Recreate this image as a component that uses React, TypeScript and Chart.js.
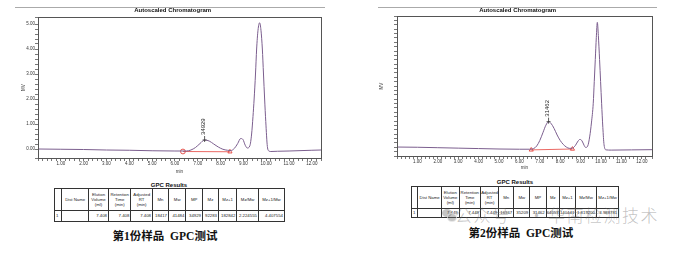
import React, { useEffect, useRef } from 'react';
import { Chart, registerables } from 'chart.js';

Chart.register(...registerables);

// ---------- data: sample 1 ----------
const times1 = [0, 1, 2, 3, 4, 5, 6, 6.5, 6.7, 6.9, 7.1, 7.3, 7.5, 7.7, 7.9, 8.1, 8.3, 8.45, 8.6, 8.75, 8.88, 8.98, 9.08, 9.17, 9.28, 9.36, 9.42, 9.47, 9.53, 9.58, 9.64, 9.71, 9.77, 9.83, 9.88, 9.93, 9.98, 10.05, 10.12, 10.2, 10.5, 11, 12, 12.4];
const signal1 = [0, -0.01, -0.02, -0.04, -0.05, -0.07, -0.08, -0.08, -0.04, 0.06, 0.22, 0.36, 0.32, 0.2, 0.08, -0.01, -0.05, -0.06, 0.02, 0.22, 0.42, 0.38, 0.15, 0.04, 0.12, 0.6, 1.3, 2.0, 3.0, 4.0, 4.75, 5.05, 4.75, 4.0, 3.0, 2.0, 1.1, 0.1, -0.08, -0.1, -0.09, -0.08, -0.05, -0.04];
const baseTimes1 = [6.35, 8.41];
const baseValues1 = [-0.1, -0.11];
const baseMarkers1 = ['circle', 'triangle'];
const peakTime1 = 7.3;
const peakLabel1 = '34929';

// ---------- data: sample 2 ----------
const times2 = [0, 1, 2, 3, 4, 5, 6, 6.5, 6.7, 6.85, 7.0, 7.15, 7.3, 7.43, 7.55, 7.7, 7.85, 8.0, 8.15, 8.3, 8.45, 8.6, 8.75, 8.88, 8.97, 9.07, 9.17, 9.25, 9.35, 9.45, 9.53, 9.62, 9.67, 9.72, 9.77, 9.82, 9.87, 9.93, 9.98, 10.03, 10.09, 10.15, 10.25, 10.5, 11.5, 12.5];
const signal2 = [0, -0.01, -0.03, -0.05, -0.07, -0.09, -0.1, -0.1, -0.07, 0.05, 0.3, 0.65, 1.0, 1.16, 1.08, 0.85, 0.55, 0.3, 0.12, 0.0, -0.06, -0.05, 0.08, 0.28, 0.35, 0.28, 0.08, -0.02, 0.05, 0.5, 1.1, 2.0, 3.0, 4.0, 5.0, 5.7, 5.1, 4.0, 3.0, 2.0, 0.9, 0.1, -0.13, -0.14, -0.13, -0.12];
const baseTimes2 = [6.58, 8.6];
const baseValues2 = [-0.13, -0.09];
const baseMarkers2 = ['triangle', 'triangle'];
const peakTime2 = 7.43;
const peakLabel2 = '31462';

// ---------- tables ----------
const gpcHeaders = ['', 'Dist Name', 'Elution\nVolume\n(ml)', 'Retention\nTime\n(min)', 'Adjusted\nRT\n(min)', 'Mn', 'Mw', 'MP', 'Mz', 'Mz+1', 'Mz/Mw', 'Mz+1/Mw'];
const gpcRow1 = ['1', '', '7.408', '7.408', '7.408', '18417', '41484', '34929', '92283', '182842', '2.224555', '4.407554'];
const gpcRow2 = ['1', '', '7.449', '7.449', '7.449', '16367', '35209', '31462', '64053', '140441', '1.819200', '3.988781'];

const chartTitle = 'Autoscaled Chromatogram';
const tableTitle = 'GPC Results';
const caption1 = '第1份样品  GPC测试';
const caption2 = '第2份样品  GPC测试';
const xTitle = 'min';
const yTitle = 'MV';

const TRACE = '#7b5e8e';
const RED = '#e4433c';
const SANS = '"Liberation Sans", Arial, sans-serif';

type ChromCfg = {
  left: number; top: number; w: number; h: number;
  times: number[]; signal: number[];
  baseTimes: number[]; baseValues: number[]; baseMarkers: string[];
  peakTime: number; peakLabel: string;
  xMax: number; yMin: number; yMax: number;
  padTop: number; padRight: number; yW: number; xH: number;
  yTitlePad: number; xTitlePad: number;
  ruleFrom: number; ruleTo: number; ruleY: number; titleX: number; titleY: number;
};

function buildConfig(c: ChromCfg): any {
  const isInt = (v: number) => Math.abs(v - Math.round(v)) < 1e-6;
  const framePlugin = {
    id: 'frame',
    afterDraw(chart: any) {
      const { ctx, chartArea: a } = chart;
      ctx.save();
      ctx.strokeStyle = '#555';
      ctx.lineWidth = 1;
      ctx.strokeRect(Math.round(a.left) + 0.5, Math.round(a.top) + 0.5, Math.round(a.right - a.left), Math.round(a.bottom - a.top));
      ctx.strokeStyle = '#aaa';
      ctx.beginPath();
      ctx.moveTo(c.ruleFrom, c.ruleY + 0.5);
      ctx.lineTo(c.ruleTo, c.ruleY + 0.5);
      ctx.stroke();
      ctx.fillStyle = '#111';
      ctx.font = 'bold 6px ' + SANS;
      ctx.textAlign = 'center';
      ctx.textBaseline = 'middle';
      ctx.fillText(chartTitle, c.titleX, c.titleY);
      ctx.restore();
    },
  };
  const peakPlugin = {
    id: 'peak',
    afterDatasetsDraw(chart: any) {
      const { ctx } = chart;
      const xs = chart.scales.x;
      const ys = chart.scales.y;
      const i = c.times.indexOf(c.peakTime);
      const px = xs.getPixelForValue(c.times[i]);
      const py = ys.getPixelForValue(c.signal[i]);
      ctx.save();
      ctx.strokeStyle = '#333';
      ctx.lineWidth = 0.8;
      ctx.beginPath();
      ctx.moveTo(px, py + 2);
      ctx.lineTo(px, py - 4);
      ctx.moveTo(px - 2, py);
      ctx.lineTo(px + 2, py);
      ctx.stroke();
      ctx.translate(px - 1.5, py - 5);
      ctx.rotate(-Math.PI / 2);
      ctx.font = '6px ' + SANS;
      ctx.fillStyle = '#222';
      ctx.textAlign = 'left';
      ctx.textBaseline = 'middle';
      ctx.fillText(c.peakLabel, 0, 0);
      ctx.restore();
    },
  };
  const tickFont = { size: 4.5, family: SANS };
  return {
    type: 'line',
    data: {
      datasets: [
        {
          data: c.times.map((t, i) => ({ x: t, y: c.signal[i] })),
          borderColor: TRACE,
          borderWidth: 1,
          pointRadius: 0,
          cubicInterpolationMode: 'monotone',
          fill: false,
        },
        {
          data: c.baseTimes.map((t, i) => ({ x: t, y: c.baseValues[i] })),
          borderColor: RED,
          borderWidth: 0.8,
          pointStyle: c.baseMarkers,
          pointRadius: 2.4,
          pointBorderColor: RED,
          pointBorderWidth: 0.9,
          pointBackgroundColor: 'rgba(255,255,255,0)',
          fill: false,
        },
      ],
    },
    options: {
      responsive: false,
      animation: false,
      devicePixelRatio: 1,
      events: [],
      layout: { padding: { left: 0, right: c.padRight, top: c.padTop, bottom: 0 } },
      plugins: { legend: { display: false }, tooltip: { enabled: false }, title: { display: false } },
      scales: {
        x: {
          type: 'linear',
          min: 0,
          max: c.xMax,
          afterFit: (s: any) => { s.height = c.xH; },
          border: { display: false },
          grid: { drawOnChartArea: false, drawTicks: true, tickLength: 3, color: '#555', lineWidth: 0.8 },
          ticks: {
            stepSize: 0.2,
            autoSkip: false,
            maxRotation: 0,
            minRotation: 0,
            padding: 0,
            font: tickFont,
            color: '#333',
            callback: (v: number) => (isInt(v) && v > 0.5 ? Number(v).toFixed(2) : ''),
          },
          title: { display: true, text: xTitle, font: tickFont, color: '#333', padding: { top: 0, bottom: c.xTitlePad } },
        },
        y: {
          type: 'linear',
          min: c.yMin,
          max: c.yMax,
          afterFit: (s: any) => { s.width = c.yW; },
          border: { display: false },
          grid: { drawOnChartArea: false, drawTicks: true, tickLength: 3, color: '#555', lineWidth: 0.8 },
          ticks: {
            stepSize: 0.2,
            autoSkip: false,
            padding: 0,
            font: tickFont,
            color: '#333',
            callback: (v: number) => (isInt(v) && v > -0.5 && v < 5.5 ? Number(v).toFixed(2) : ''),
          },
          title: { display: true, text: yTitle, font: tickFont, color: '#333', padding: { top: c.yTitlePad, bottom: 0 } },
        },
      },
    },
    plugins: [framePlugin, peakPlugin],
  };
}

function Chromatogram({ cfg }: { cfg: ChromCfg }) {
  const ref = useRef<HTMLCanvasElement | null>(null);
  useEffect(() => {
    const chart = new Chart(ref.current as HTMLCanvasElement, buildConfig(cfg));
    return () => chart.destroy();
  }, []);
  return (
    <canvas
      ref={ref}
      width={cfg.w}
      height={cfg.h}
      style={{ position: 'absolute', left: cfg.left, top: cfg.top, width: cfg.w, height: cfg.h }}
    />
  );
}

type TableCfg = { left: number; top: number; colWidths: number[]; headH: number; rowH: number; row: string[]; titleX: number; titleY: number };

function GpcTable({ t }: { t: TableCfg }) {
  const width = t.colWidths.reduce((a, b) => a + b, 0);
  const cell: React.CSSProperties = {
    border: '0.8px solid #333',
    padding: 0,
    fontFamily: SANS,
    fontSize: 4.3,
    lineHeight: '5.2px',
    color: '#222',
    overflow: 'hidden',
    whiteSpace: 'pre-line',
  };
  return (
    <>
      <div
        style={{
          position: 'absolute', left: t.titleX - 40, top: t.titleY - 3.5, width: 80, textAlign: 'center',
          fontFamily: SANS, fontWeight: 'bold', fontSize: 6, lineHeight: '7px', color: '#111',
        }}
      >
        {tableTitle}
      </div>
      <table
        style={{
          position: 'absolute', left: t.left, top: t.top, width, borderCollapse: 'collapse',
          tableLayout: 'fixed', border: '1.4px solid #222',
        }}
      >
        <colgroup>
          {t.colWidths.map((w, i) => <col key={i} style={{ width: w }} />)}
        </colgroup>
        <tbody>
          <tr style={{ height: t.headH }}>
            {gpcHeaders.map((h, i) => (
              <td key={i} style={{ ...cell, textAlign: 'center', height: t.headH }}>{h}</td>
            ))}
          </tr>
          <tr style={{ height: t.rowH }}>
            {t.row.map((v, i) => (
              <td key={i} style={{ ...cell, textAlign: i === 0 ? 'left' : 'right', paddingRight: i === 0 ? 0 : 1, paddingLeft: i === 0 ? 1 : 0, height: t.rowH }}>{v}</td>
            ))}
          </tr>
        </tbody>
      </table>
    </>
  );
}

const chrom1: ChromCfg = {
  left: 15, top: 0, w: 315, h: 180,
  times: times1, signal: signal1,
  baseTimes: baseTimes1, baseValues: baseValues1, baseMarkers: baseMarkers1,
  peakTime: peakTime1, peakLabel: peakLabel1,
  xMax: 12.4, yMin: -0.36, yMax: 5.28,
  padTop: 17, padRight: 9, yW: 23, xH: 22,
  yTitlePad: 5.6, xTitlePad: 5.3,
  ruleFrom: 0, ruleTo: 310, ruleY: 7, titleX: 157.7, titleY: 10.6,
};

const chrom2: ChromCfg = {
  left: 378, top: 0, w: 279, h: 175,
  times: times2, signal: signal2,
  baseTimes: baseTimes2, baseValues: baseValues2, baseMarkers: baseMarkers2,
  peakTime: peakTime2, peakLabel: peakLabel2,
  xMax: 12.5, yMin: -0.41, yMax: 5.99,
  padTop: 16, padRight: 5, yW: 19, xH: 19,
  yTitlePad: 1.0, xTitlePad: 4.3,
  ruleFrom: 0, ruleTo: 279, ruleY: 7, titleX: 139.7, titleY: 10,
};

const table1: TableCfg = {
  left: 54, top: 188, colWidths: [7.4, 26.6, 20, 22.4, 21.6, 16, 17.4, 16.6, 16, 18.4, 21.6, 26],
  headH: 21, rowH: 10, row: gpcRow1, titleX: 169, titleY: 185,
};

const table2: TableCfg = {
  left: 411, top: 186, colWidths: [6.3, 23.7, 17.7, 21.3, 18.3, 15, 16, 16.4, 13.3, 16, 21, 22.3],
  headH: 21, rowH: 8, row: gpcRow2, titleX: 515, titleY: 182,
};

const captionStyle: React.CSSProperties = {
  position: 'absolute', width: 160, textAlign: 'center', whiteSpace: 'pre',
  fontFamily: '"Liberation Serif", "Noto Sans CJK SC", serif', fontSize: 11.5, lineHeight: '14px',
  fontWeight: 600, color: '#111',
};

const wmStyle: React.CSSProperties = {
  position: 'absolute', fontFamily: '"Noto Sans CJK SC", sans-serif', fontWeight: 300,
  fontSize: 17, lineHeight: '20px', color: 'rgba(110,110,110,0.42)', letterSpacing: 1.5, whiteSpace: 'pre',
};

export default function App() {
  return (
    <div style={{ position: 'fixed', left: 0, top: 0, width: 684, height: 258, overflow: 'hidden', background: '#fff' }}>
      <Chromatogram cfg={chrom1} />
      <Chromatogram cfg={chrom2} />
      <GpcTable t={table1} />
      <GpcTable t={table2} />
      <div style={{ ...captionStyle, left: 165 - 80, top: 235.8 - 7 }}>{caption1}</div>
      <div style={{ ...captionStyle, left: 520.8 - 80, top: 232.5 - 7 }}>{caption2}</div>
      {/* watermark */}
      <div style={{ position: 'absolute', left: 442, top: 209, width: 10, height: 8, borderRadius: '50%', background: 'rgba(110,110,110,0.4)' }} />
      <div style={{ position: 'absolute', left: 447, top: 213, width: 8, height: 7, borderRadius: '50%', background: 'rgba(110,110,110,0.4)', border: '1px solid rgba(255,255,255,0.6)' }} />
      <div style={{ ...wmStyle, left: 455, top: 205 }}>公众号</div>
      <div style={{ ...wmStyle, left: 528, top: 205 }}>·</div>
      <div style={{ ...wmStyle, left: 548, top: 205 }}>华南检测技术</div>
    </div>
  );
}
